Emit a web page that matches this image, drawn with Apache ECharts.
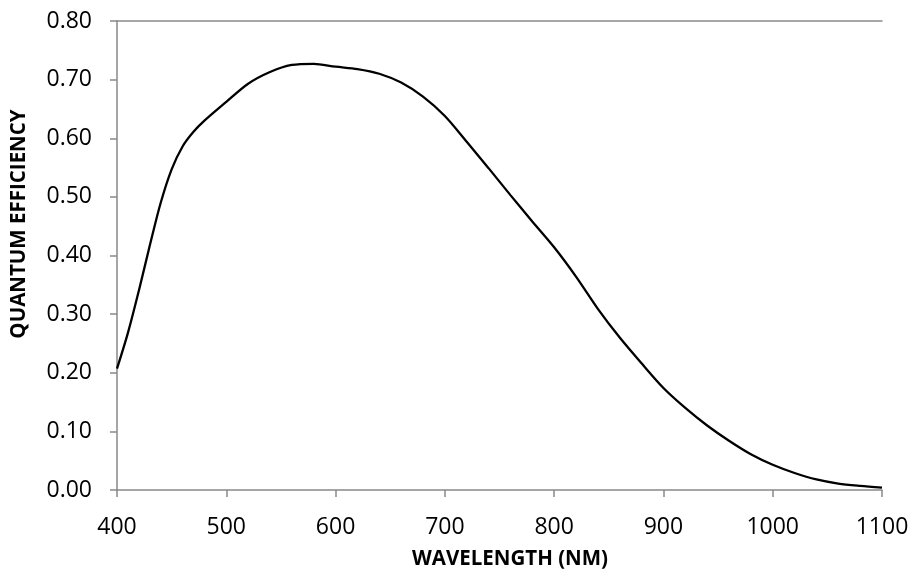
<!DOCTYPE html>
<html>
<head>
<meta charset="utf-8">
<script src="https://cdn.jsdelivr.net/npm/echarts@6/dist/echarts.min.js"></script>
<style>
html,body{margin:0;padding:0;background:#fff;}
#chart{width:916px;height:577px;}
</style>
</head>
<body>
<div id="chart"></div>
<script>
const wavelengths = [400,410,420,430,440,450,460,470,480,500,520,540,560,580,600,620,640,660,680,700,720,740,760,780,800,820,840,860,880,900,920,940,960,980,1000,1020,1040,1060,1080,1100];
const efficiency = [0.207,0.268,0.340,0.417,0.490,0.547,0.586,0.611,0.630,0.662,0.693,0.713,0.725,0.727,0.722,0.718,0.710,0.695,0.671,0.638,0.594,0.549,0.503,0.458,0.414,0.364,0.309,0.260,0.216,0.174,0.140,0.110,0.084,0.061,0.043,0.029,0.018,0.011,0.007,0.004];
const xTitle = 'WAVELENGTH (NM)';
const yTitle = 'QUANTUM EFFICIENCY';

const FONT = '"Open Sans", "Liberation Sans", sans-serif';
const axisGray = '#898989';
const chart = echarts.init(document.getElementById('chart'), null, {renderer: 'canvas'});
chart.setOption({
  animation: false,
  backgroundColor: '#ffffff',
  grid: {left: 117, right: 34, top: 21, bottom: 87, containLabel: false},
  xAxis: [{
    type: 'value', min: 400, max: 1100, interval: 100,
    axisLine: {show: true, lineStyle: {color: axisGray, width: 1.5}},
    axisTick: {show: true, length: 7, lineStyle: {color: axisGray, width: 1.5}},
    axisLabel: {color: '#000', fontFamily: FONT, fontSize: 23, margin: 26,
      formatter: v => String(v)},
    splitLine: {show: false}
  }, {
    type: 'value', position: 'top', min: 400, max: 1100,
    axisLine: {show: true, onZero: false, lineStyle: {color: axisGray, width: 1.5}},
    axisTick: {show: false}, axisLabel: {show: false}, splitLine: {show: false}
  }],
  yAxis: {
    type: 'value', min: 0, max: 0.8, interval: 0.1,
    axisLine: {show: true, lineStyle: {color: axisGray, width: 1.5}},
    axisTick: {show: true, length: 7, lineStyle: {color: axisGray, width: 1.5}},
    axisLabel: {color: '#000', fontFamily: FONT, fontSize: 23, margin: 25,
      formatter: v => v.toFixed(2)},
    splitLine: {show: false}
  },
  series: [{
    type: 'line',
    xAxisIndex: 0,
    data: wavelengths.map((w, i) => [w, efficiency[i]]),
    smooth: 0.3,
    showSymbol: false,
    lineStyle: {color: '#000', width: 2.3}
  }],
  graphic: [{
    type: 'text',
    style: {text: xTitle, font: 'bold 20.5px ' + FONT, fill: '#000', align: 'center', verticalAlign: 'middle', x: 0, y: 0},
    x: 510, y: 559
  }, {
    type: 'text',
    rotation: Math.PI / 2,
    style: {text: yTitle, font: 'bold 20.5px ' + FONT, fill: '#000', align: 'center', verticalAlign: 'middle', x: 0, y: 0},
    x: 19, y: 224
  }]
});
</script>
</body>
</html>
